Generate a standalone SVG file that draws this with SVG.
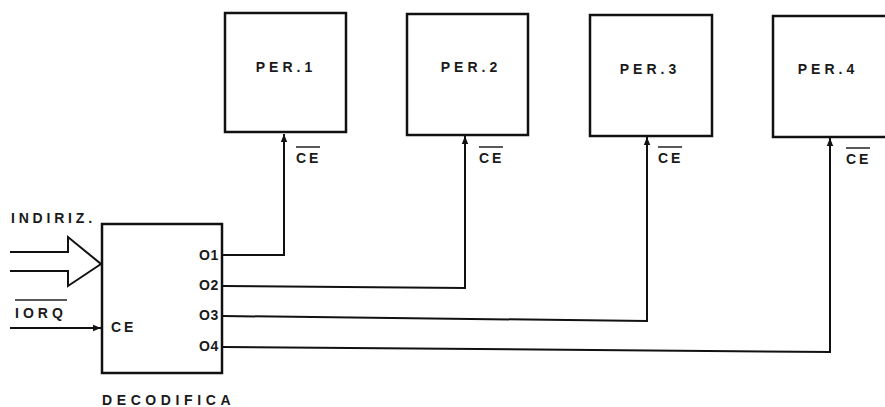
<svg xmlns="http://www.w3.org/2000/svg" width="885" height="407" viewBox="0 0 885 407">
<style>
.box{fill:#fff;stroke:#111;stroke-width:2.5}
.wire{fill:none;stroke:#111;stroke-width:2}
.t{font-family:"Liberation Sans",Arial,sans-serif;font-weight:bold;font-size:14px;fill:#1a1a1a;letter-spacing:4px}
.ce{letter-spacing:3px}
.o{letter-spacing:0.5px}
.ol{stroke:#222;stroke-width:1.5}
</style>
<defs>
<marker id="ah" viewBox="0 0 10 10" refX="10" refY="5" markerWidth="8" markerHeight="10" markerUnits="userSpaceOnUse" orient="auto">
<path d="M0,1 L10,5 L0,9 Z" fill="#111"/>
</marker>
</defs>
<rect width="885" height="407" fill="#fff"/>

<g id="connectors">
<path class="wire" d="M223,255 L284,255 L284,134" marker-end="url(#ah)"/>
<path class="wire" d="M223,286 L465,288 L465,136" marker-end="url(#ah)"/>
<path class="wire" d="M223,316 L647,321 L647,137" marker-end="url(#ah)"/>
<path class="wire" d="M223,347 L830,352 L830,138" marker-end="url(#ah)"/>
<path class="wire" d="M10,328 L101,328" marker-end="url(#ah)"/>
<path class="wire" d="M10,252 L68,252 L68,237 L101,264 L68,286 L68,271 L10,271"/>
</g>

<g id="per1">
<rect class="box" x="225" y="13" width="121" height="119"/>
<text class="t" x="286" y="72" text-anchor="middle">PER.1</text>
<text class="t ce" x="296" y="163">CE</text>
<line class="ol" x1="296" y1="147" x2="320" y2="147"/>
</g>
<g id="per2">
<rect class="box" x="407" y="14" width="121" height="121"/>
<text class="t" x="471" y="72" text-anchor="middle">PER.2</text>
<text class="t ce" x="479" y="163">CE</text>
<line class="ol" x1="479" y1="147" x2="503" y2="147"/>
</g>
<g id="per3">
<rect class="box" x="590" y="15" width="122" height="121"/>
<text class="t" x="650" y="74" text-anchor="middle">PER.3</text>
<text class="t ce" x="658" y="163">CE</text>
<line class="ol" x1="658" y1="147" x2="682" y2="147"/>
</g>
<g id="per4">
<rect class="box" x="773" y="16" width="122" height="121"/>
<text class="t" x="828" y="74" text-anchor="middle">PER.4</text>
<text class="t ce" x="846" y="164">CE</text>
<line class="ol" x1="846" y1="148" x2="870" y2="148"/>
</g>

<g id="decodifica">
<rect class="box" x="102" y="224" width="120" height="149"/>
<text class="t ce" x="111" y="332">CE</text>
<text class="t o" x="199" y="260">O1</text>
<text class="t o" x="199" y="290">O2</text>
<text class="t o" x="199" y="320">O3</text>
<text class="t o" x="199" y="351">O4</text>
<text class="t" x="102" y="405" style="letter-spacing:4.6px">DECODIFICA</text>
</g>

<g id="labels">
<text class="t" x="11" y="223" style="letter-spacing:3.8px">INDIRIZ.</text>
<text class="t" x="15" y="318">IORQ</text>
<line class="ol" x1="15" y1="300" x2="67" y2="300"/>
</g>
</svg>
